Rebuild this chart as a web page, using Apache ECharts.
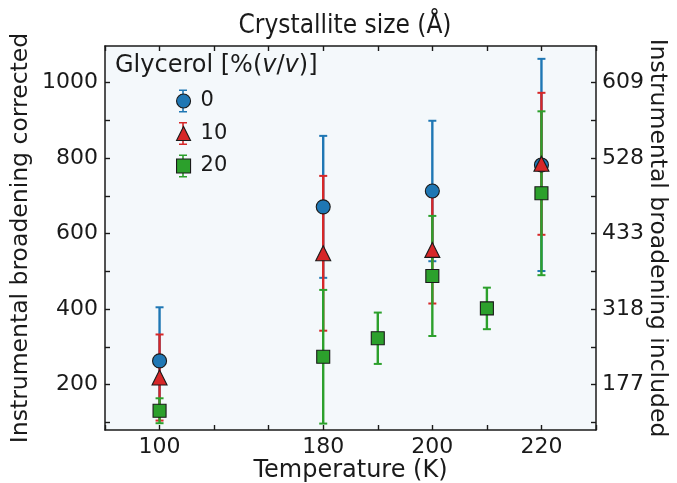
<!DOCTYPE html>
<html>
<head>
<meta charset="utf-8">
<script src="https://cdn.jsdelivr.net/npm/echarts@6/dist/echarts.min.js"></script>
<style>
  html, body { margin: 0; padding: 0; background: #ffffff; }
  #chart { width: 677px; height: 483px; }
</style>
</head>
<body>
<div id="chart"></div>
<script>
// Temperature slots along the x axis (evenly spaced); only some carry a label
const tempSlots = ['', '100', '', '', '180', '190', '200', '210', '220', ''];
const labeledTemps = ['100', '180', '200', '220'];

// Crystallite size (instrumental broadening corrected) with symmetric errors
const temps0 = ['100', '180', '200', '220'];
const size0 = [263, 671, 713, 782];
const err0 = [142, 188, 186, 281];

const temps10 = ['100', '180', '200', '220'];
const size10 = [219, 548, 557, 785];
const err10 = [114, 205, 142, 188];

const temps20 = ['100', '180', '190', '200', '210', '220'];
const size20 = [131, 274, 323, 488, 402, 707];
const err20 = [33, 177, 68, 159, 55, 217];

// Left axis ticks / labels, and the right axis (broadening included) labels
const leftTicks = [100, 200, 300, 400, 500, 600, 700, 800, 900, 1000];
const leftLabels = [200, 400, 600, 800, 1000];
const rightLabels = ['177', '318', '433', '528', '609'];

const FONT = 'DejaVu Sans';
const TITLE_FONT = "'DejaVu Sans Condensed', 'DejaVu Sans'";
const INK = '#1a1a1a';
const BLUE = '#1f77b4', RED = '#d62728', GREEN = '#2ca02c';
const Y_MIN = 80, Y_MAX = 1097;

// I-beam shaped legend icon standing for an error bar
const errIcon = 'path://M0,0H8V1.6H4.8V21.4H8V23H0V21.4H3.2V1.6H0Z';

function errorBars(name, temps, vals, errs, color) {
  return {
    type: 'custom',
    name: name,
    xAxisIndex: 0,
    yAxisIndex: 0,
    z: 2,
    silent: true,
    data: temps.map((t, i) => [t, vals[i] - errs[i], vals[i] + errs[i]]),
    encode: { x: 0, y: [1, 2] },
    renderItem: function (params, api) {
      const xi = api.value(0);
      const lo = api.coord([xi, api.value(1)]);
      const hi = api.coord([xi, api.value(2)]);
      const hw = 4;
      const style = { stroke: color, lineWidth: 2.4 };
      const capStyle = { stroke: color, lineWidth: 2 };
      return {
        type: 'group',
        children: [
          { type: 'line', shape: { x1: lo[0], y1: lo[1], x2: hi[0], y2: hi[1] }, style: style },
          { type: 'line', shape: { x1: lo[0] - hw, y1: lo[1], x2: lo[0] + hw, y2: lo[1] }, style: capStyle },
          { type: 'line', shape: { x1: hi[0] - hw, y1: hi[1], x2: hi[0] + hw, y2: hi[1] }, style: capStyle }
        ]
      };
    }
  };
}

function markers(name, temps, vals, symbol, size, color) {
  return {
    type: 'scatter',
    name: name,
    xAxisIndex: 0,
    yAxisIndex: 0,
    z: 3,
    symbol: symbol,
    symbolSize: size,
    data: temps.map((t, i) => [t, vals[i]]),
    itemStyle: { color: color, borderColor: INK, borderWidth: 1.1, opacity: 1 },
    emphasis: { disabled: true }
  };
}

const tickStyle = { color: INK, width: 1.4 };
const lineStyle = { color: INK, width: 1.5 };

const chart = echarts.init(document.getElementById('chart'), null, { renderer: 'canvas' });

chart.setOption({
  animation: false,
  textStyle: { fontFamily: FONT },
  title: [
    {
      text: 'Crystallite size (Å)',
      left: 345, textAlign: 'center', top: 11, padding: 0,
      textStyle: { fontFamily: TITLE_FONT, fontSize: 26, fontWeight: 'normal', color: INK, lineHeight: 30 }
    },
    {
      text: '{n|Glycerol [%(}{i|v}{n|/}{i|v}{n|)]}',
      left: 115, top: 52, padding: 0,
      textStyle: {
        fontWeight: 'normal',
        rich: {
          n: { fontFamily: FONT, fontSize: 24, fontWeight: 'normal', color: INK, lineHeight: 28 },
          i: { fontFamily: FONT, fontSize: 24, fontWeight: 'normal', color: INK, lineHeight: 28, fontStyle: 'italic' }
        }
      }
    }
  ],
  legend: [
    {
      left: 179, top: 89, padding: 0,
      orient: 'vertical',
      itemWidth: 8, itemHeight: 23, itemGap: 8.5,
      textStyle: { fontFamily: FONT, fontSize: 21, color: 'transparent', lineHeight: 24 },
      data: [
        { name: '0', icon: errIcon, itemStyle: { color: BLUE, borderWidth: 0 } },
        { name: '10', icon: errIcon, itemStyle: { color: RED, borderWidth: 0 } },
        { name: '20', icon: errIcon, itemStyle: { color: GREEN, borderWidth: 0 } }
      ]
    },
    {
      left: 176, top: 89, padding: 0,
      orient: 'vertical',
      itemWidth: 14, itemHeight: 14, itemGap: 8.5,
      textStyle: { fontFamily: FONT, fontSize: 21, color: INK, lineHeight: 24, padding: [0, 0, 0, 5] },
      data: [
        { name: '0', icon: 'circle', itemStyle: { color: BLUE, borderColor: INK, borderWidth: 1.1 } },
        { name: '10', icon: 'triangle', itemStyle: { color: RED, borderColor: INK, borderWidth: 1.1 } },
        { name: '20', icon: 'rect', itemStyle: { color: GREEN, borderColor: INK, borderWidth: 1.1 } }
      ]
    }
  ],
  grid: {
    left: 105, right: 81, top: 46, bottom: 53,
    outerBoundsMode: 'none',
    containLabel: false,
    show: true, backgroundColor: '#f4f8fb', borderWidth: 0
  },
  xAxis: [
    {
      type: 'category',
      data: tempSlots,
      boundaryGap: false,
      position: 'bottom',
      name: 'Temperature (K)',
      nameLocation: 'middle',
      nameGap: 29,
      nameMoveOverlap: false,
      nameTextStyle: { fontFamily: FONT, fontSize: 24, color: INK },
      axisLine: { onZero: false, lineStyle: lineStyle },
      axisTick: { inside: true, length: 5, interval: 0, lineStyle: tickStyle },
      axisLabel: {
        interval: 0, margin: 6, fontFamily: FONT, fontSize: 22, color: INK,
        formatter: v => (labeledTemps.includes(v) ? v : '')
      },
      splitLine: { show: false }
    },
    {
      type: 'category',
      data: tempSlots,
      boundaryGap: false,
      position: 'top',
      axisLine: { onZero: false, lineStyle: lineStyle },
      axisTick: { inside: true, length: 5, interval: 0, lineStyle: tickStyle },
      axisLabel: { show: false },
      splitLine: { show: false }
    }
  ],
  yAxis: [
    {
      type: 'value',
      min: Y_MIN, max: Y_MAX,
      position: 'left',
      name: 'Instrumental broadening corrected',
      nameLocation: 'middle',
      nameGap: 72,
      nameMoveOverlap: false,
      nameTextStyle: { fontFamily: FONT, fontSize: 23.5, color: INK },
      axisLine: { show: true, onZero: false, lineStyle: lineStyle },
      axisTick: { show: true, inside: true, length: 5, customValues: leftTicks, lineStyle: tickStyle },
      axisLabel: {
        margin: 7, fontFamily: FONT, fontSize: 22, color: INK, customValues: leftLabels,
        formatter: v => String(v)
      },
      splitLine: { show: false }
    },
    {
      type: 'value',
      min: Y_MIN, max: Y_MAX,
      position: 'right',
      name: 'Instrumental broadening included',
      nameLocation: 'middle',
      nameRotate: -90,
      nameGap: 49,
      nameMoveOverlap: false,
      nameTextStyle: { fontFamily: FONT, fontSize: 23.5, color: INK },
      axisLine: { show: true, onZero: false, lineStyle: lineStyle },
      axisTick: { show: true, inside: true, length: 5, customValues: leftTicks, lineStyle: tickStyle },
      axisLabel: {
        margin: 6, fontFamily: FONT, fontSize: 22, color: INK, customValues: leftLabels,
        formatter: v => rightLabels[leftLabels.indexOf(v)] || ''
      },
      splitLine: { show: false }
    }
  ],
  series: [
    errorBars('0', temps0, size0, err0, BLUE),
    errorBars('10', temps10, size10, err10, RED),
    errorBars('20', temps20, size20, err20, GREEN),
    markers('0', temps0, size0, 'circle', 14, BLUE),
    markers('10', temps10, size10, 'triangle', 15, RED),
    markers('20', temps20, size20, 'rect', 13, GREEN)
  ]
});
</script>
</body>
</html>
